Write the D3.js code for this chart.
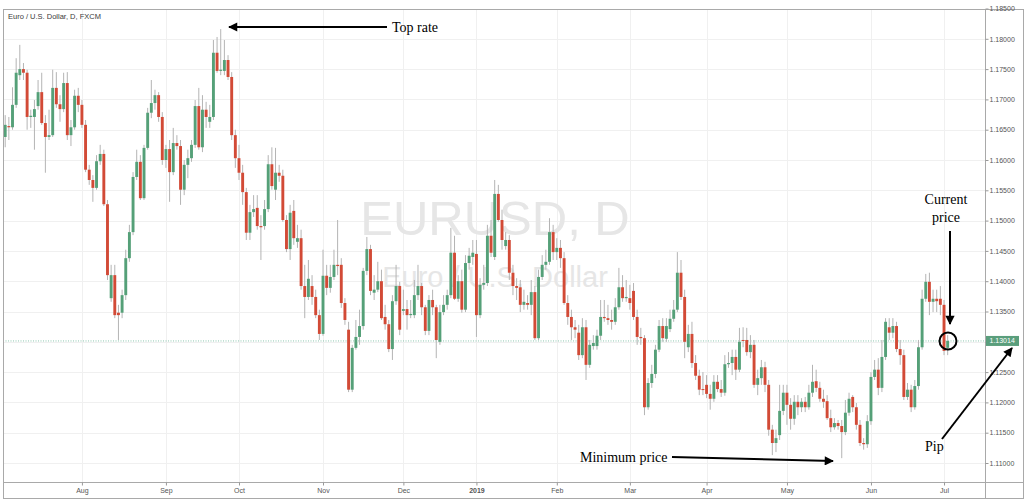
<!DOCTYPE html>
<html>
<head>
<meta charset="utf-8">
<script src="https://cdn.jsdelivr.net/npm/d3@7/dist/d3.min.js"></script>
<style>
  html, body { margin: 0; padding: 0; background: #fff; }
  svg { display: block; }
</style>
</head>
<body>
<svg id="chart" width="1024" height="503"></svg>
<script>
// EUR/USD daily candles, Jul 2018 - Jul 2019
var opens = [
  1.1638, 1.1656, 1.1654, 1.1691, 1.1740, 1.1750, 1.1744, 1.1671, 1.1671, 1.1689,
  1.1712, 1.1661, 1.1638, 1.1641, 1.1719, 1.1692, 1.1684, 1.1727, 1.1641, 1.1654,
  1.1706, 1.1691, 1.1658, 1.1584, 1.1567, 1.1554, 1.1598, 1.1610, 1.1527, 1.1372,
  1.1410, 1.1348, 1.1348, 1.1377, 1.1438, 1.1481, 1.1572, 1.1597, 1.1537, 1.1620,
  1.1678, 1.1694, 1.1707, 1.1671, 1.1600, 1.1618, 1.1580, 1.1628, 1.1623, 1.1551,
  1.1592, 1.1603, 1.1625, 1.1689, 1.1621, 1.1683, 1.1663, 1.1671, 1.1777, 1.1747,
  1.1747, 1.1765, 1.1737, 1.1641, 1.1603, 1.1579, 1.1547, 1.1480, 1.1514, 1.1521,
  1.1491, 1.1491, 1.1519, 1.1593, 1.1551, 1.1579, 1.1574, 1.1501, 1.1453, 1.1516,
  1.1465, 1.1471, 1.1392, 1.1374, 1.1392, 1.1374, 1.1344, 1.1313, 1.1409, 1.1389,
  1.1407, 1.1427, 1.1427, 1.1364, 1.1320, 1.1221, 1.1290, 1.1308, 1.1326, 1.1417,
  1.1453, 1.1381, 1.1386, 1.1400, 1.1341, 1.1329, 1.1288, 1.1367, 1.1392, 1.1351,
  1.1354, 1.1344, 1.1344, 1.1377, 1.1392, 1.1357, 1.1318, 1.1369, 1.1357, 1.1300,
  1.1349, 1.1361, 1.1377, 1.1447, 1.1371, 1.1400, 1.1353, 1.1430, 1.1440, 1.1445,
  1.1344, 1.1394, 1.1397, 1.1475, 1.1440, 1.1544, 1.1501, 1.1458, 1.1468, 1.1414,
  1.1392, 1.1390, 1.1361, 1.1364, 1.1361, 1.1382, 1.1306, 1.1407, 1.1427, 1.1432,
  1.1481, 1.1448, 1.1455, 1.1438, 1.1364, 1.1341, 1.1324, 1.1315, 1.1278, 1.1324,
  1.1262, 1.1293, 1.1293, 1.1310, 1.1341, 1.1339, 1.1336, 1.1333, 1.1357, 1.1390,
  1.1372, 1.1372, 1.1384, 1.1341, 1.1308, 1.1306, 1.1192, 1.1232, 1.1247, 1.1287,
  1.1326, 1.1305, 1.1321, 1.1338, 1.1353, 1.1414, 1.1374, 1.1291, 1.1313, 1.1265,
  1.1244, 1.1222, 1.1229, 1.1214, 1.1206, 1.1234, 1.1222, 1.1216, 1.1263, 1.1265,
  1.1275, 1.1254, 1.1303, 1.1303, 1.1283, 1.1295, 1.1229, 1.1240, 1.1258, 1.1229,
  1.1155, 1.1133, 1.1146, 1.1186, 1.1216, 1.1196, 1.1173, 1.1201, 1.1192, 1.1201,
  1.1192, 1.1216, 1.1235, 1.1224, 1.1206, 1.1202, 1.1174, 1.1159, 1.1166, 1.1161,
  1.1151, 1.1183, 1.1209, 1.1192, 1.1163, 1.1133, 1.1131, 1.1169, 1.1242, 1.1254,
  1.1224, 1.1275, 1.1324, 1.1315, 1.1326, 1.1288, 1.1278, 1.1209, 1.1221, 1.1192,
  1.1227, 1.1291, 1.1371, 1.1399, 1.1366, 1.1371, 1.1371, 1.1361, 1.1290
];
var highs = [
  1.1674, 1.1671, 1.1720, 1.1768, 1.1790, 1.1760, 1.1749, 1.1683, 1.1699, 1.1732,
  1.1744, 1.1674, 1.1683, 1.1749, 1.1745, 1.1707, 1.1744, 1.1745, 1.1666, 1.1716,
  1.1719, 1.1699, 1.1666, 1.1592, 1.1575, 1.1608, 1.1625, 1.1617, 1.1534, 1.1427,
  1.1427, 1.1361, 1.1386, 1.1452, 1.1493, 1.1580, 1.1617, 1.1608, 1.1625, 1.1686,
  1.1732, 1.1716, 1.1712, 1.1679, 1.1625, 1.1633, 1.1653, 1.1641, 1.1633, 1.1600,
  1.1617, 1.1633, 1.1699, 1.1719, 1.1707, 1.1696, 1.1691, 1.1798, 1.1803, 1.1816,
  1.1798, 1.1773, 1.1745, 1.1650, 1.1625, 1.1592, 1.1554, 1.1526, 1.1542, 1.1542,
  1.1509, 1.1534, 1.1608, 1.1621, 1.1620, 1.1592, 1.1584, 1.1509, 1.1526, 1.1534,
  1.1493, 1.1485, 1.1427, 1.1435, 1.1410, 1.1386, 1.1353, 1.1452, 1.1427, 1.1427,
  1.1452, 1.1501, 1.1438, 1.1372, 1.1333, 1.1295, 1.1336, 1.1353, 1.1422, 1.1473,
  1.1460, 1.1410, 1.1432, 1.1419, 1.1361, 1.1336, 1.1377, 1.1427, 1.1399, 1.1386,
  1.1369, 1.1369, 1.1402, 1.1427, 1.1397, 1.1361, 1.1377, 1.1386, 1.1361, 1.1361,
  1.1377, 1.1386, 1.1488, 1.1475, 1.1410, 1.1419, 1.1443, 1.1455, 1.1468, 1.1468,
  1.1405, 1.1427, 1.1493, 1.1501, 1.1567, 1.1559, 1.1518, 1.1481, 1.1476, 1.1427,
  1.1405, 1.1402, 1.1386, 1.1377, 1.1402, 1.1392, 1.1419, 1.1443, 1.1452, 1.1504,
  1.1493, 1.1471, 1.1468, 1.1448, 1.1377, 1.1353, 1.1336, 1.1328, 1.1339, 1.1336,
  1.1303, 1.1311, 1.1320, 1.1369, 1.1369, 1.1361, 1.1353, 1.1372, 1.1422, 1.1410,
  1.1402, 1.1394, 1.1397, 1.1353, 1.1323, 1.1311, 1.1240, 1.1262, 1.1295, 1.1336,
  1.1339, 1.1339, 1.1353, 1.1369, 1.1448, 1.1435, 1.1386, 1.1328, 1.1333, 1.1278,
  1.1254, 1.1250, 1.1245, 1.1229, 1.1245, 1.1245, 1.1237, 1.1278, 1.1283, 1.1287,
  1.1287, 1.1323, 1.1324, 1.1323, 1.1311, 1.1303, 1.1254, 1.1270, 1.1267, 1.1237,
  1.1163, 1.1155, 1.1229, 1.1229, 1.1229, 1.1207, 1.1212, 1.1212, 1.1207, 1.1209,
  1.1229, 1.1262, 1.1254, 1.1234, 1.1221, 1.1212, 1.1188, 1.1174, 1.1171, 1.1171,
  1.1204, 1.1216, 1.1212, 1.1199, 1.1171, 1.1141, 1.1179, 1.1250, 1.1270, 1.1273,
  1.1303, 1.1339, 1.1339, 1.1339, 1.1333, 1.1303, 1.1287, 1.1232, 1.1229, 1.1237,
  1.1303, 1.1386, 1.1412, 1.1414, 1.1386, 1.1386, 1.1392, 1.1369, 1.1311
];
var lows = [
  1.1621, 1.1633, 1.1650, 1.1686, 1.1732, 1.1732, 1.1650, 1.1653, 1.1617, 1.1683,
  1.1658, 1.1579, 1.1633, 1.1638, 1.1686, 1.1663, 1.1679, 1.1633, 1.1623, 1.1650,
  1.1679, 1.1653, 1.1580, 1.1559, 1.1531, 1.1551, 1.1592, 1.1524, 1.1402, 1.1366,
  1.1339, 1.1303, 1.1339, 1.1369, 1.1432, 1.1476, 1.1567, 1.1534, 1.1534, 1.1617,
  1.1669, 1.1683, 1.1663, 1.1592, 1.1587, 1.1531, 1.1575, 1.1617, 1.1526, 1.1542,
  1.1570, 1.1597, 1.1620, 1.1617, 1.1613, 1.1653, 1.1653, 1.1666, 1.1744, 1.1740,
  1.1740, 1.1732, 1.1633, 1.1587, 1.1567, 1.1526, 1.1468, 1.1468, 1.1506, 1.1485,
  1.1435, 1.1485, 1.1514, 1.1551, 1.1534, 1.1564, 1.1498, 1.1448, 1.1435, 1.1460,
  1.1455, 1.1386, 1.1339, 1.1369, 1.1361, 1.1339, 1.1303, 1.1310, 1.1377, 1.1381,
  1.1402, 1.1410, 1.1356, 1.1328, 1.1217, 1.1217, 1.1287, 1.1295, 1.1320, 1.1410,
  1.1377, 1.1369, 1.1382, 1.1336, 1.1320, 1.1283, 1.1270, 1.1361, 1.1311, 1.1344,
  1.1320, 1.1339, 1.1339, 1.1369, 1.1344, 1.1311, 1.1311, 1.1344, 1.1273, 1.1295,
  1.1344, 1.1353, 1.1372, 1.1369, 1.1366, 1.1348, 1.1349, 1.1419, 1.1427, 1.1308,
  1.1339, 1.1386, 1.1392, 1.1440, 1.1435, 1.1498, 1.1452, 1.1452, 1.1402, 1.1377,
  1.1369, 1.1349, 1.1353, 1.1353, 1.1344, 1.1303, 1.1303, 1.1402, 1.1419, 1.1427,
  1.1435, 1.1435, 1.1422, 1.1361, 1.1328, 1.1303, 1.1306, 1.1270, 1.1273, 1.1237,
  1.1257, 1.1287, 1.1287, 1.1303, 1.1333, 1.1328, 1.1320, 1.1328, 1.1353, 1.1366,
  1.1366, 1.1353, 1.1336, 1.1295, 1.1295, 1.1179, 1.1188, 1.1224, 1.1240, 1.1283,
  1.1300, 1.1300, 1.1316, 1.1333, 1.1349, 1.1369, 1.1273, 1.1283, 1.1257, 1.1237,
  1.1212, 1.1212, 1.1207, 1.1188, 1.1201, 1.1217, 1.1209, 1.1211, 1.1257, 1.1245,
  1.1237, 1.1250, 1.1291, 1.1277, 1.1273, 1.1224, 1.1212, 1.1229, 1.1217, 1.1145,
  1.1113, 1.1118, 1.1138, 1.1179, 1.1163, 1.1155, 1.1163, 1.1179, 1.1184, 1.1184,
  1.1188, 1.1209, 1.1217, 1.1201, 1.1191, 1.1171, 1.1151, 1.1155, 1.1155, 1.1108,
  1.1146, 1.1178, 1.1184, 1.1155, 1.1128, 1.1122, 1.1125, 1.1163, 1.1237, 1.1212,
  1.1217, 1.1270, 1.1303, 1.1306, 1.1283, 1.1262, 1.1204, 1.1204, 1.1184, 1.1188,
  1.1221, 1.1287, 1.1366, 1.1344, 1.1349, 1.1349, 1.1344, 1.1278, 1.1278
];
var closes = [
  1.1658, 1.1654, 1.1691, 1.1744, 1.1750, 1.1744, 1.1671, 1.1673, 1.1684, 1.1712,
  1.1661, 1.1638, 1.1641, 1.1719, 1.1692, 1.1684, 1.1727, 1.1641, 1.1654, 1.1706,
  1.1691, 1.1658, 1.1584, 1.1567, 1.1554, 1.1598, 1.1610, 1.1527, 1.1410, 1.1410,
  1.1344, 1.1344, 1.1377, 1.1438, 1.1481, 1.1572, 1.1597, 1.1537, 1.1620, 1.1678,
  1.1694, 1.1707, 1.1671, 1.1600, 1.1618, 1.1580, 1.1628, 1.1623, 1.1551, 1.1592,
  1.1603, 1.1625, 1.1689, 1.1621, 1.1683, 1.1671, 1.1671, 1.1777, 1.1747, 1.1749,
  1.1765, 1.1737, 1.1641, 1.1603, 1.1579, 1.1547, 1.1480, 1.1514, 1.1519, 1.1491,
  1.1489, 1.1519, 1.1593, 1.1557, 1.1579, 1.1574, 1.1501, 1.1453, 1.1513, 1.1471,
  1.1471, 1.1392, 1.1374, 1.1404, 1.1374, 1.1344, 1.1313, 1.1409, 1.1389, 1.1407,
  1.1427, 1.1425, 1.1364, 1.1336, 1.1221, 1.1290, 1.1308, 1.1326, 1.1417, 1.1453,
  1.1384, 1.1386, 1.1400, 1.1339, 1.1329, 1.1288, 1.1367, 1.1392, 1.1320, 1.1354,
  1.1344, 1.1346, 1.1377, 1.1392, 1.1357, 1.1318, 1.1369, 1.1357, 1.1303, 1.1349,
  1.1361, 1.1377, 1.1447, 1.1371, 1.1400, 1.1353, 1.1430, 1.1442, 1.1447, 1.1344,
  1.1394, 1.1397, 1.1475, 1.1447, 1.1544, 1.1501, 1.1468, 1.1468, 1.1414, 1.1392,
  1.1389, 1.1361, 1.1366, 1.1361, 1.1382, 1.1306, 1.1407, 1.1427, 1.1432, 1.1481,
  1.1448, 1.1455, 1.1438, 1.1364, 1.1341, 1.1324, 1.1320, 1.1278, 1.1324, 1.1262,
  1.1295, 1.1298, 1.1310, 1.1341, 1.1339, 1.1336, 1.1333, 1.1357, 1.1390, 1.1372,
  1.1374, 1.1364, 1.1341, 1.1308, 1.1306, 1.1192, 1.1232, 1.1247, 1.1287, 1.1326,
  1.1306, 1.1326, 1.1338, 1.1353, 1.1414, 1.1374, 1.1300, 1.1313, 1.1265, 1.1244,
  1.1221, 1.1221, 1.1214, 1.1206, 1.1234, 1.1222, 1.1216, 1.1263, 1.1265, 1.1275,
  1.1254, 1.1300, 1.1302, 1.1283, 1.1295, 1.1229, 1.1240, 1.1258, 1.1229, 1.1155,
  1.1133, 1.1141, 1.1186, 1.1216, 1.1196, 1.1173, 1.1201, 1.1192, 1.1201, 1.1192,
  1.1216, 1.1234, 1.1224, 1.1206, 1.1201, 1.1174, 1.1159, 1.1166, 1.1161, 1.1151,
  1.1183, 1.1206, 1.1192, 1.1163, 1.1133, 1.1131, 1.1169, 1.1242, 1.1254, 1.1224,
  1.1275, 1.1333, 1.1315, 1.1326, 1.1288, 1.1278, 1.1209, 1.1221, 1.1192, 1.1227,
  1.1291, 1.1371, 1.1399, 1.1366, 1.1371, 1.1367, 1.1361, 1.1285, 1.13014
];

// bar index of the first trading day of each month, and its label
var monthIndex = [21, 44, 64, 87, 109, 129, 151, 171, 192, 214, 237, 257];
var monthLabels = ['Aug', 'Sep', 'Oct', 'Nov', 'Dec', '2019', 'Feb', 'Mar', 'Apr', 'May', 'Jun', 'Jul'];

var priceTicks = [1.110, 1.115, 1.120, 1.125, 1.130, 1.135, 1.140, 1.145,
  1.150, 1.155, 1.160, 1.165, 1.170, 1.175, 1.180, 1.185];
var lastPrice = 1.13014;

var upColor = '#55a078';
var downColor = '#d24a36';

var svg = d3.select('#chart');
var frame = { left: 3, top: 9, right: 985, bottom: 482, outerRight: 1023, outerBottom: 498 };

var x = d3.scaleLinear().domain([0, closes.length - 1]).range([5.2, 5.2 + (closes.length - 1) * 3.653]);
var y = d3.scaleLinear().domain([1.110, 1.185]).range([463, 8.5]);

var bars = closes.map(function (c, i) {
  return { i: i, o: opens[i], h: highs[i], l: lows[i], c: c };
});

svg.append('defs').append('clipPath').attr('id', 'plotClip')
  .append('rect')
  .attr('x', frame.left).attr('y', frame.top)
  .attr('width', frame.right - frame.left).attr('height', frame.bottom - frame.top);

svg.select('defs').append('marker')
  .attr('id', 'head')
  .attr('viewBox', '0 0 10 10')
  .attr('refX', 9).attr('refY', 5)
  .attr('markerWidth', 5.5).attr('markerHeight', 4.6)
  .attr('orient', 'auto')
  .append('path').attr('d', 'M0,0L10,5L0,10z').attr('fill', '#000');

// grid
var grid = svg.append('g').attr('clip-path', 'url(#plotClip)');
grid.selectAll('line.h').data(priceTicks).enter().append('line')
  .attr('x1', frame.left).attr('x2', frame.right)
  .attr('y1', function (d) { return Math.round(y(d)) + 0.5 })
  .attr('y2', function (d) { return Math.round(y(d)) + 0.5 })
  .attr('stroke', '#f0f0f0');
grid.selectAll('line.v').data(monthIndex).enter().append('line')
  .attr('y1', frame.top).attr('y2', frame.bottom)
  .attr('x1', function (d) { return Math.round(x(d)) + 0.5 })
  .attr('x2', function (d) { return Math.round(x(d)) + 0.5 })
  .attr('stroke', '#f0f0f0');

// watermark
var cx = (frame.left + frame.right) / 2 + 1;
svg.append('text').attr('x', cx).attr('y', 235)
  .attr('text-anchor', 'middle')
  .style('font-family', '"Liberation Sans", Arial, sans-serif')
  .style('font-size', '49px')
  .attr('fill', '#e6e6e6')
  .text('EURUSD, D');
svg.append('text').attr('x', cx).attr('y', 287)
  .attr('text-anchor', 'middle')
  .style('font-family', '"Liberation Sans", Arial, sans-serif')
  .style('font-size', '29px')
  .attr('fill', '#e6e6e6')
  .text('Euro / U.S. Dollar');

// last price line
svg.append('line')
  .attr('x1', frame.left).attr('x2', frame.right)
  .attr('y1', y(lastPrice)).attr('y2', y(lastPrice))
  .attr('stroke', '#6fb79b').attr('stroke-width', 0.8)
  .attr('stroke-dasharray', '1,1.5');

// candles
var candles = svg.append('g').attr('clip-path', 'url(#plotClip)');
candles.selectAll('line.wick').data(bars).enter().append('line')
  .attr('x1', function (d) { return x(d.i) }).attr('x2', function (d) { return x(d.i) })
  .attr('y1', function (d) { return y(d.h) }).attr('y2', function (d) { return y(d.l) })
  .attr('stroke', '#b4b4b4').attr('stroke-width', 1);
candles.selectAll('rect.body').data(bars).enter().append('rect')
  .attr('x', function (d) { return x(d.i) - 1.45 })
  .attr('width', 2.9)
  .attr('y', function (d) { return y(Math.max(d.o, d.c)) })
  .attr('height', function (d) { return Math.max(1, Math.abs(y(d.o) - y(d.c))) })
  .attr('fill', function (d) { return d.c >= d.o ? upColor : downColor });

// frame
var frameG = svg.append('g').attr('stroke', '#a9a9a9').attr('fill', 'none');
frameG.append('rect')
  .attr('x', frame.left + 0.5).attr('y', frame.top + 0.5)
  .attr('width', frame.outerRight - frame.left).attr('height', frame.outerBottom - frame.top);
frameG.append('line').attr('x1', frame.right + 0.5).attr('x2', frame.right + 0.5)
  .attr('y1', frame.top).attr('y2', frame.outerBottom);
frameG.append('line').attr('x1', frame.left).attr('x2', frame.outerRight)
  .attr('y1', frame.bottom + 0.5).attr('y2', frame.bottom + 0.5);

// axes
var yAxis = svg.append('g')
  .attr('transform', 'translate(' + (frame.right + 0.5) + ',0)')
  .call(d3.axisRight(y).tickValues(priceTicks).tickFormat(d3.format('.5f')).tickSize(3).tickPadding(1));
var xAxis = svg.append('g')
  .attr('transform', 'translate(0,' + (frame.bottom + 0.5) + ')')
  .call(d3.axisBottom(x).tickValues(monthIndex).tickFormat(function (d, i) { return monthLabels[i] }).tickSize(3).tickPadding(3));
[yAxis, xAxis].forEach(function (g) {
  g.select('.domain').remove();
  g.selectAll('.tick line').attr('stroke', '#999');
  g.selectAll('.tick text')
    .attr('fill', '#555')
    .style('font-family', '"Liberation Sans", Arial, sans-serif')
    .style('font-size', '7px');
});
xAxis.selectAll('.tick text').style('font-weight', function (d, i) { return monthLabels[i] === '2019' ? 'bold' : 'normal' });

// last price label on the axis
var ly = y(lastPrice);
svg.append('rect').attr('x', frame.right + 1).attr('y', ly - 5)
  .attr('width', 33).attr('height', 10).attr('fill', '#5a9e7c');
svg.append('text').attr('x', frame.right + 4.5).attr('y', ly).attr('dy', '0.34em')
  .attr('fill', '#fff')
  .style('font-family', '"Liberation Sans", Arial, sans-serif')
  .style('font-size', '7px')
  .text(d3.format('.5f')(lastPrice));

// chart title
svg.append('text').attr('x', 8).attr('y', 18.5)
  .attr('fill', '#3a3a3a')
  .style('font-family', '"Liberation Sans", Arial, sans-serif')
  .style('font-size', '7.5px')
  .text('Euro / U.S. Dollar, D, FXCM');

// annotations
var notes = svg.append('g');
function arrow (x1, y1, x2, y2) {
  notes.append('line')
    .attr('x1', x1).attr('y1', y1).attr('x2', x2).attr('y2', y2)
    .attr('stroke', '#000').attr('stroke-width', 2)
    .attr('marker-end', 'url(#head)');
}
function note (tx, ty, label, anchor) {
  notes.append('text').attr('x', tx).attr('y', ty)
    .attr('text-anchor', anchor || 'start')
    .attr('fill', '#000')
    .style('font-family', '"Liberation Serif", "Times New Roman", serif')
    .style('font-size', '14px')
    .text(label);
}

arrow(387, 27, 229, 27);
note(392, 32, 'Top rate');

note(946, 204, 'Current', 'middle');
note(946, 222, 'price', 'middle');
arrow(950, 231, 950, 324);
notes.append('circle').attr('cx', 948).attr('cy', 341).attr('r', 8.5)
  .attr('fill', 'none').attr('stroke', '#000').attr('stroke-width', 2);

note(925, 451, 'Pip');
arrow(942, 439, 1012, 348);

note(580, 462, 'Minimum price');
arrow(672, 457, 833, 461);
</script>
</body>
</html>
